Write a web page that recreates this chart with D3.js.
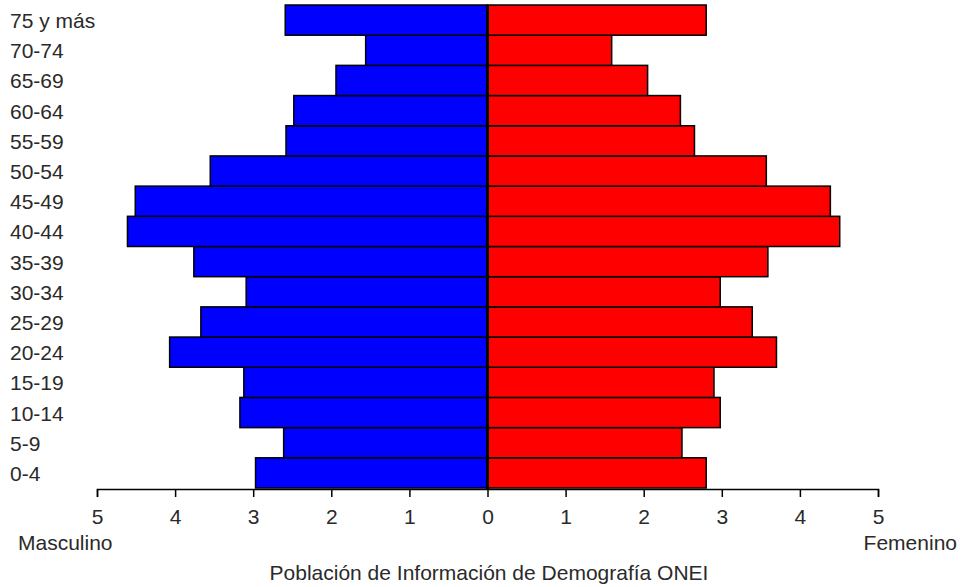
<!DOCTYPE html>
<html>
<head>
<meta charset="utf-8">
<script src="https://cdn.jsdelivr.net/npm/d3@7"></script>
<style>
  body { margin: 0; background: #fff; }
  text { font-family: "Liberation Sans", Arial, sans-serif; fill: #2a2a2a; }
</style>
</head>
<body>
<div id="chart"></div>
<script>
// grupos de edad, de abajo hacia arriba
const ageGroups = ["0-4", "5-9", "10-14", "15-19", "20-24", "25-29", "30-34", "35-39",
  "40-44", "45-49", "50-54", "55-59", "60-64", "65-69", "70-74", "75 y más"];
const male = [2.97, 2.61, 3.17, 3.12, 4.07, 3.67, 3.09, 3.76,
  4.61, 4.51, 3.55, 2.58, 2.48, 1.94, 1.56, 2.59];
const female = [2.80, 2.49, 2.98, 2.90, 3.70, 3.39, 2.98, 3.59,
  4.51, 4.39, 3.57, 2.65, 2.47, 2.05, 1.59, 2.80];
const tickValues = [-5, -4, -3, -2, -1, 0, 1, 2, 3, 4, 5];

const width = 962;
const height = 587;
const fontSize = 21;

const svg = d3.select("#chart")
  .append("svg")
  .attr("width", width)
  .attr("height", height);

const x = d3.scaleLinear().domain([-5, 5]).range([97, 878]);
const y = d3.scaleBand()
  .domain(ageGroups.slice().reverse())
  .range([5, 488])
  .padding(0);

const rows = ageGroups.map((g, i) => ({ group: g, m: male[i], f: female[i] }));

// masculino
svg.selectAll(".male")
  .data(rows)
  .enter()
  .append("rect")
  .attr("class", "male")
  .attr("x", d => x(-d.m))
  .attr("y", d => y(d.group))
  .attr("width", d => x(0) - x(-d.m))
  .attr("height", y.bandwidth())
  .attr("fill", "#0000ff")
  .attr("stroke", "#000")
  .attr("stroke-width", 1.5);

// femenino
svg.selectAll(".female")
  .data(rows)
  .enter()
  .append("rect")
  .attr("class", "female")
  .attr("x", x(0))
  .attr("y", d => y(d.group))
  .attr("width", d => x(d.f) - x(0))
  .attr("height", y.bandwidth())
  .attr("fill", "#ff0000")
  .attr("stroke", "#000")
  .attr("stroke-width", 1.5);

// linea central
svg.append("line")
  .attr("x1", x(0)).attr("x2", x(0))
  .attr("y1", 5).attr("y2", 489)
  .attr("stroke", "#000")
  .attr("stroke-width", 3);

// etiquetas de edad
svg.selectAll(".age")
  .data(ageGroups)
  .enter()
  .append("text")
  .attr("class", "age")
  .attr("x", 10)
  .attr("y", d => y(d) + y.bandwidth() / 2 + 8)
  .attr("font-size", fontSize)
  .text(d => d);

// eje x
const axis = d3.axisBottom(x)
  .tickValues(tickValues)
  .tickSize(8)
  .tickPadding(12)
  .tickFormat(d => Math.abs(d));

const gx = svg.append("g")
  .attr("transform", "translate(0,489)")
  .call(axis);
gx.select(".domain").attr("stroke", "#000").attr("stroke-width", 1.5);
gx.selectAll(".tick line").attr("stroke", "#000").attr("stroke-width", 1.5);
gx.selectAll(".tick text")
  .attr("font-size", fontSize)
  .attr("font-family", "Liberation Sans, Arial, sans-serif")
  .attr("fill", "#2a2a2a");

svg.append("text")
  .attr("x", 18)
  .attr("y", 550)
  .attr("font-size", fontSize)
  .text("Masculino");

svg.append("text")
  .attr("x", 957)
  .attr("y", 550)
  .attr("text-anchor", "end")
  .attr("font-size", fontSize)
  .text("Femenino");

svg.append("text")
  .attr("x", 489)
  .attr("y", 580)
  .attr("text-anchor", "middle")
  .attr("font-size", fontSize)
  .text("Población de Información de Demografía ONEI");
</script>
</body>
</html>
